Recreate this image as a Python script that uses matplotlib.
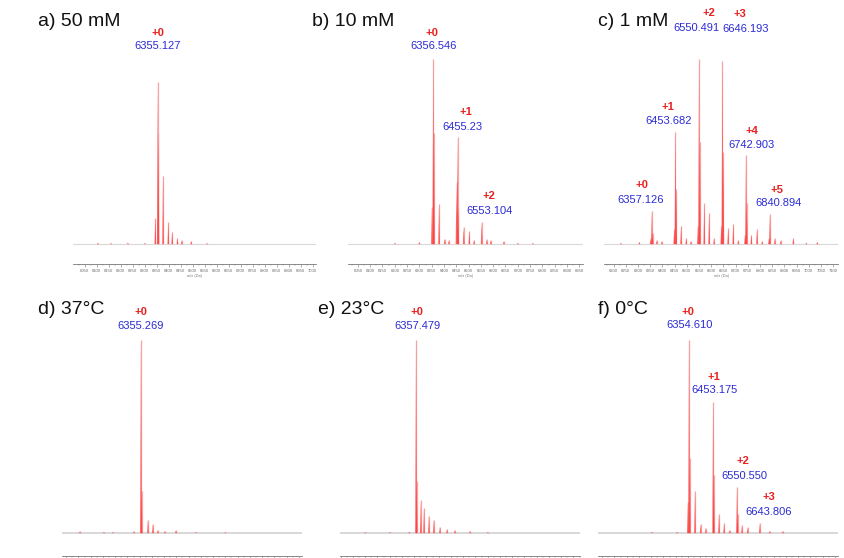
import matplotlib
matplotlib.use("Agg")
import matplotlib.pyplot as plt
from matplotlib.collections import PolyCollection
from matplotlib.ticker import MultipleLocator

plt.rcParams['font.family'] = ['Liberation Sans', 'DejaVu Sans']

# ---------------- data ----------------
titles = ["a) 50 mM", "b) 10 mM", "c) 1 mM", "d) 37°C", "e) 23°C", "f) 0°C"]

masses_a = [6105, 6160, 6230, 6300, 6345, 6355.1, 6358, 6377, 6399, 6415, 6437, 6455, 6494, 6560]
int_a = [0.6, 0.5, 0.7, 0.5, 14, 87.6, 60, 37, 12, 6.5, 3, 2, 1.5, 0.5]

masses_b = [6200, 6300, 6351, 6356.5, 6359, 6380, 6403, 6420, 6451, 6455.2, 6458,
            6480, 6503, 6522, 6553.1, 6574, 6590, 6643, 6700, 6760]
int_b = [0.6, 1, 20, 100, 60, 21.6, 2.7, 2, 33.5, 58, 20,
         9, 7, 2, 12, 2.5, 2, 1.5, 0.6, 0.5]

masses_c = [6230, 6306, 6352, 6357.1, 6360, 6377, 6398, 6449, 6453.7, 6457, 6477, 6498, 6517,
            6546, 6550.5, 6554, 6572, 6592, 6612, 6642, 6646.2, 6650, 6670, 6691, 6711,
            6739, 6742.9, 6746, 6765, 6788, 6809, 6837, 6840.9, 6861, 6885, 6937, 6990, 7035]
int_c = [0.5, 1, 3, 17.8, 6, 2, 1.5, 8, 60.5, 30, 10, 3, 1.5,
         10, 100, 55, 22, 17, 3, 10, 99, 50, 8.6, 11, 2,
         5, 48, 22, 5, 8, 1.5, 3, 16, 3, 2, 3, 0.8, 1]

masses_d = [6106, 6204, 6241, 6326, 6355.3, 6358, 6384, 6404, 6424, 6453, 6498, 6580, 6700]
int_d = [0.8, 0.6, 0.6, 0.8, 100, 22, 7, 4.7, 1.5, 1, 1.5, 0.5, 0.4]

masses_e = [6150, 6250, 6330, 6357.5, 6360, 6377, 6390, 6410, 6430, 6455, 6484, 6516, 6578, 6650]
int_e = [0.5, 0.5, 0.7, 100, 27, 17, 13, 9, 7, 3, 2, 1.5, 1, 0.5]

masses_f = [6203, 6306, 6350, 6354.6, 6358, 6379, 6402, 6423, 6453.2, 6456, 6477, 6498, 6520,
            6550.6, 6553, 6571, 6594, 6643.8, 6684, 6738]
int_f = [0.6, 0.6, 16, 100, 39, 22, 4.7, 2.6, 68, 30, 10, 5, 1.5,
         24, 10, 4, 3, 5, 1, 1]

# annotated peaks: (charge label, mass text, peak mass, peak intensity)
labels_a = [("+0", "6355.127", 6355.1, 87.6)]
labels_b = [("+0", "6356.546", 6356.5, 100), ("+1", "6455.23", 6455.2, 58),
            ("+2", "6553.104", 6553.1, 12)]
labels_c = [("+0", "6357.126", 6357.1, 17.8), ("+1", "6453.682", 6453.7, 60.5),
            ("+2", "6550.491", 6550.5, 100), ("+3", "6646.193", 6646.2, 99),
            ("+4", "6742.903", 6742.9, 48), ("+5", "6840.894", 6840.9, 16)]
labels_d = [("+0", "6355.269", 6355.3, 100)]
labels_e = [("+0", "6357.479", 6357.5, 100)]
labels_f = [("+0", "6354.610", 6354.6, 100), ("+1", "6453.175", 6453.2, 68),
            ("+2", "6550.550", 6550.6, 24), ("+3", "6643.806", 6643.8, 5)]

xlims = [(6002, 7014), (6010, 6965), (6161, 7120), (6033, 7013), (6047, 7027), (5983, 6963)]

# ---------------- layout (pixels) ----------------
W, H = 845, 558
# (left, right, top, spine_y)
boxes = [(73, 316, 59, 264), (348, 583, 59, 264), (604, 838, 59, 264),
         (62, 302, 340, 556), (340, 580, 340, 556), (598, 838, 340, 556)]
ybottoms = [-10.8, -10.8, -10.8, -11.9, -11.9, -11.9]
title_pos = [(38, 22), (312, 22), (598, 22), (38, 310), (318, 310), (598, 310)]

# label offsets in pixels: (blue dx, blue dy, red dx, red dy)
offs = [
    [(0, 36, 0, 49)],
    [(0, 13, -1, 26), (5, 10, 8, 25), (8, 11, 7, 26)],
    [(-11, 11, -10, 26), (-7, 11, -8, 25), (-3, 31, 10, 46), (23, 32, 17, 47),
     (6, 10, 6, 24), (9, 11, 7, 24)],
    [(0, 14, 0, 28)],
    [(1, 14, 1, 28)],
    [(1, 15, -1, 28), (1, 12, 1, 25), (7, 11, 6, 26), (9, 11, 9, 26)],
]

masses = [masses_a, masses_b, masses_c, masses_d, masses_e, masses_f]
ints = [int_a, int_b, int_c, int_d, int_e, int_f]
labels = [labels_a, labels_b, labels_c, labels_d, labels_e, labels_f]

fig = plt.figure(figsize=(W / 100, H / 100), dpi=100)

for i in range(6):
    l, r, t, b = boxes[i]
    ax = fig.add_axes([l / W, 1 - b / H, (r - l) / W, (b - t) / H])
    ax.set_xlim(*xlims[i])
    ax.set_ylim(ybottoms[i], 100)
    ax.patch.set_alpha(0)
    # baseline
    ax.axhline(0, color='#d8d8d8', lw=0.8 if i < 3 else 1.4, zorder=1)
    # peaks
    hw = 3.5
    verts = [[(m - hw, 0), (m, h), (m + hw, 0)] for m, h in zip(masses[i], ints[i])]
    pc = PolyCollection(verts, facecolor='#ff3b3b', edgecolor='none', alpha=0.75, zorder=3)
    ax.add_collection(pc)
    ax.vlines(masses[i], 0, ints[i], color='#f4a6a6', lw=0.9, zorder=2)
    # labels
    for (ch, txt, m, h), (bdx, bdy, rdx, rdy) in zip(labels[i], offs[i]):
        ax.annotate(txt, xy=(m, h), xytext=(bdx, bdy), textcoords='offset pixels',
                    ha='center', va='center', fontsize=8.0, color='#2b2bd6',
                    annotation_clip=False)
        ax.annotate(ch, xy=(m, h), xytext=(rdx, rdy), textcoords='offset pixels',
                    ha='center', va='center', fontsize=8.0, color='#e82020',
                    fontweight='bold', annotation_clip=False)
    # axes styling
    for s in ['top', 'left', 'right']:
        ax.spines[s].set_visible(False)
    ax.spines['bottom'].set_color('#777777')
    ax.spines['bottom'].set_linewidth(0.6)
    ax.set_yticks([])
    ax.xaxis.set_major_locator(MultipleLocator(50))
    ax.xaxis.set_minor_locator(MultipleLocator(25))
    top_row = i < 3
    ax.tick_params(axis='x', which='major', direction='out', length=2, width=0.4,
                   color='#777777', labelsize=3, labelcolor='#666666', pad=1.5,
                   labelbottom=top_row)
    ax.tick_params(axis='x', which='minor', direction='out', length=1.2, width=0.3,
                   color='#999999')
    if top_row:
        ax.set_xlabel("m/z (Da)", fontsize=2.8, color='#777777', labelpad=0.5)
    # title
    tx, ty = title_pos[i]
    fig.text(tx / W, 1 - ty / H, titles[i], fontsize=14, ha='left', va='center',
             color='#111111')

fig.savefig("out.png", dpi=100)
